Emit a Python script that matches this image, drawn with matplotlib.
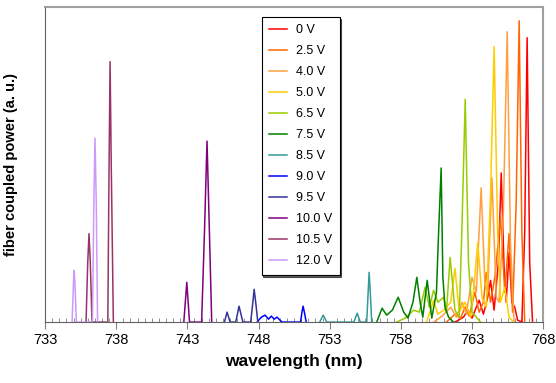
import matplotlib
matplotlib.use("Agg")
import matplotlib.pyplot as plt
from matplotlib.ticker import MultipleLocator

plt.rcParams['font.family'] = ['Liberation Sans', 'DejaVu Sans']

# spectra: (wavelength nm, coupled power a.u.) vertices
labels = ["0 V", "2.5 V", "4.0 V", "5.0 V", "6.5 V", "7.5 V",
          "8.5 V", "9.0 V", "9.5 V", "10.0 V", "10.5 V", "12.0 V"]
colors = ["#ff0000", "#ff6600", "#ffa040", "#ffcc00", "#99cc00", "#008000",
          "#339999", "#0000ff", "#333399", "#800080", "#993366", "#cc99ff"]
xticks = [733, 738, 743, 748, 753, 758, 763, 768]

wl_0v = [761.8, 762.4, 762.7, 763.0, 763.3, 763.5, 763.8, 764.1, 764.3, 764.55,
         764.85, 765.05, 765.25, 765.4, 765.6, 765.8, 766.0, 766.2, 766.5, 766.7,
         766.87, 767.05, 767.25]
pw_0v = [0.0, 0.05, 0.12, 0.04, 0.15, 0.22, 0.08, 0.25, 0.42, 0.12,
         0.6, 1.5, 0.55, 0.2, 0.7, 0.2, 0.15, 0.02, 0.0, 0.9,
         2.86, 0.6, 0.0]

wl_25v = [761.2, 761.8, 762.2, 762.5, 762.8, 763.2, 763.5, 763.8, 764.0, 764.3,
          764.6, 765.0, 765.3, 765.6, 765.85, 766.1, 766.31, 766.5, 766.7]
pw_25v = [0.0, 0.08, 0.04, 0.15, 0.06, 0.3, 0.1, 0.2, 0.5, 0.2,
          0.45, 1.05, 0.3, 0.89, 0.1, 1.2, 3.03, 0.9, 0.0]

wl_40v = [760.3, 760.9, 761.5, 761.9, 762.3, 762.6, 763.0, 763.3, 763.64, 763.9,
          764.1, 764.4, 764.7, 764.9, 765.2, 765.47, 765.7, 765.95]
pw_40v = [0.0, 0.06, 0.15, 0.05, 0.2, 0.08, 0.45, 0.3, 1.35, 0.4,
          0.3, 1.45, 0.25, 0.2, 1.1, 2.92, 0.8, 0.0]

wl_50v = [759.8, 760.3, 760.6, 761.0, 761.5, 761.8, 762.1, 762.5, 762.9, 763.1,
          763.4, 763.7, 764.0, 764.3, 764.55, 764.8, 765.0, 765.3, 765.6, 765.9]
pw_50v = [0.0, 0.22, 0.08, 0.12, 0.2, 0.54, 0.1, 0.2, 0.05, 0.3,
          0.8, 0.25, 0.15, 1.3, 2.77, 0.9, 0.2, 0.35, 0.05, 0.0]

wl_65v = [757.7, 758.3, 758.9, 759.3, 759.7, 760.0, 760.3, 760.6, 761.0, 761.2,
          761.46, 761.8, 762.1, 762.3, 762.52, 762.75, 763.0, 763.3, 763.6]
pw_65v = [0.0, 0.04, 0.12, 0.1, 0.35, 0.15, 0.32, 0.2, 0.25, 0.1,
          0.65, 0.12, 0.05, 1.0, 2.24, 0.6, 0.1, 0.05, 0.0]

wl_75v = [756.3, 756.68, 757.0, 757.4, 757.81, 758.2, 758.5, 758.85, 759.12, 759.35,
          759.54, 759.85, 760.17, 760.5, 760.65, 760.83, 760.95, 761.1, 761.35, 761.7]
pw_75v = [0.0, 0.14, 0.07, 0.12, 0.25, 0.1, 0.04, 0.2, 0.45, 0.2,
          0.05, 0.42, 0.04, 0.3, 0.9, 1.55, 0.45, 0.15, 0.05, 0.0]

wl_85v = [752.3, 752.54, 752.8, 754.7, 754.93, 755.15, 755.6, 755.7, 755.77, 755.85, 755.95]
pw_85v = [0.0, 0.07, 0.0, 0.0, 0.09, 0.0, 0.0, 0.3, 0.5, 0.3, 0.0]

wl_90v = [747.9, 748.2, 748.46, 748.7, 748.9, 749.1, 749.3, 749.5, 749.66,
          750.95, 751.05, 751.13, 751.22, 751.35]
pw_90v = [0.0, 0.05, 0.07, 0.03, 0.06, 0.03, 0.05, 0.02, 0.0,
          0.0, 0.1, 0.16, 0.1, 0.0]

wl_95v = [745.6, 745.79, 746.0, 746.4, 746.63, 746.9, 747.45, 747.6, 747.69, 747.8, 747.95]
pw_95v = [0.0, 0.10, 0.0, 0.0, 0.16, 0.0, 0.0, 0.2, 0.33, 0.2, 0.0]

wl_100v = [742.75, 742.96, 743.15, 744.0, 744.2, 744.38, 744.55, 744.71]
pw_100v = [0.0, 0.40, 0.0, 0.0, 0.9, 1.82, 0.9, 0.0]

wl_105v = [735.88, 736.0, 736.09, 736.18, 736.3, 737.41, 737.5, 737.57, 737.65, 737.8]
pw_105v = [0.0, 0.6, 0.89, 0.6, 0.0, 0.0, 1.6, 2.62, 1.6, 0.0]

wl_120v = [734.9, 735.0, 735.04, 735.1, 735.2, 736.33, 736.43, 736.51, 736.6, 736.69]
pw_120v = [0.0, 0.4, 0.52, 0.4, 0.0, 0.0, 1.2, 1.85, 1.2, 0.0]

wavelengths = [wl_0v, wl_25v, wl_40v, wl_50v, wl_65v, wl_75v,
               wl_85v, wl_90v, wl_95v, wl_100v, wl_105v, wl_120v]
powers = [pw_0v, pw_25v, pw_40v, pw_50v, pw_65v, pw_75v,
          pw_85v, pw_90v, pw_95v, pw_100v, pw_105v, pw_120v]

fig = plt.figure(figsize=(5.56, 3.83), dpi=100)
ax = fig.add_axes([0.081, 0.159, 0.896, 0.823])

for wl, pw, lab, col in zip(wavelengths, powers, labels, colors):
    ax.plot(wl, pw, color=col, lw=1.1, label=lab)

ax.set_xlim(733, 768)
ax.set_ylim(0, 3.17)
ax.set_xticks(xticks)
ax.xaxis.set_minor_locator(MultipleLocator(0.5))
ax.tick_params(axis='x', which='major', direction='out', length=5, color='#808080',
               labelsize=10.5, pad=3)
ax.tick_params(axis='x', which='minor', direction='in', length=3, color='#808080')
ax.set_yticks([])

for side in ['left', 'bottom']:
    ax.spines[side].set_color('#606060')
for side in ['top', 'right']:
    ax.spines[side].set_color('#a0a0a0')
    ax.spines[side].set_linewidth(1.5)

ax.set_xlabel("wavelength (nm)", fontsize=12.5, fontweight='bold', labelpad=5)
ax.set_ylabel("fiber coupled power (a. u.)", fontsize=10.5, fontweight='bold')
ax.yaxis.set_label_coords(-0.054, 0.5)

leg = ax.legend(loc='upper left', bbox_to_anchor=(0.422, 0.988), fontsize=9,
                frameon=True, fancybox=False, edgecolor='black', borderpad=0.6,
                labelspacing=0.72, handlelength=1.4, handletextpad=0.75,
                shadow={'color': 'black', 'alpha': 0.6, 'ox': 1.2, 'oy': -1.2})
leg.get_frame().set_linewidth(0.8)

fig.savefig("out.png", dpi=100)
